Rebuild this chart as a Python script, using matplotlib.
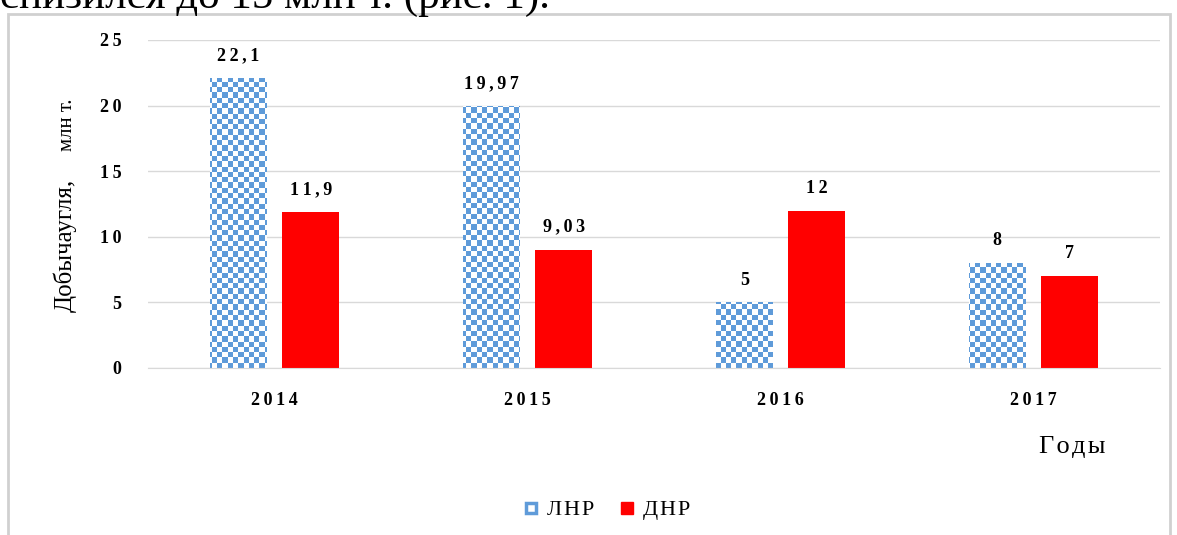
import numpy as np
import matplotlib
matplotlib.use("Agg")
import matplotlib.pyplot as plt
from matplotlib.patches import Rectangle
from matplotlib.colors import ListedColormap
from matplotlib.lines import Line2D

years = ["2014", "2015", "2016", "2017"]
lnr = [22.1, 19.97, 5, 8]
dnr = [11.9, 9.03, 12, 7]
lnr_labels = ["22,1", "19,97", "5", "8"]
dnr_labels = ["11,9", "9,03", "12", "7"]
series_names = ["ЛНР", "ДНР"]
yticks = [0, 5, 10, 15, 20, 25]


def sp(s, gap="\u2009"):
    # widen letter spacing to mimic the horizontally stretched original
    return gap.join(s)


W, H = 1177, 535
plt.rcParams['font.family'] = ['Liberation Serif', 'DejaVu Serif']
fig = plt.figure(figsize=(W / 100, H / 100), dpi=100)

BLUE = "#5f9bd9"
RED = "#ff0000"
GRID = "#d9d9d9"

# frame
fig.patches.append(Rectangle((8 / W, -0.01), (1170 - 8) / W, 1 - 14 / H + 0.01,
                             transform=fig.transFigure, fill=False,
                             edgecolor="#d0d0d0", linewidth=2))
# cut-off preceding text
fig.text(0.0, 1 - 8 / H, "снизился до 15 млн т. (рис. 1).", fontsize=31,
         va="baseline", ha="left", color="black")

left, right = 148 / W, 1160 / W
bottom, top = 1 - 368 / H, 1 - 40 / H
ax = fig.add_axes([left, bottom, right - left, top - bottom])

x = np.arange(len(years))
bw = 0.225
off = 0.143
bars_l = ax.bar(x - off, lnr, bw, color="white", edgecolor="none", zorder=2)
bars_d = ax.bar(x + off, dnr, bw, color=RED, edgecolor="none", zorder=2)

# checkerboard fill for LNR bars
ax_w_px = (right - left) * W
ax_h_px = (top - bottom) * H
sq = 5.3
nx = int(ax_w_px / sq) + 1
ny = int(ax_h_px / sq) + 1
ii, jj = np.indices((ny, nx))
checker = ((ii + jj) % 2).astype(float)
cmap = ListedColormap(["white", BLUE])
for b in bars_l:
    im = ax.imshow(checker, cmap=cmap, interpolation="nearest", origin="lower",
                   extent=(-0.5, -0.5 + nx * sq / ax_w_px * 4, 0, ny * sq / ax_h_px * 25),
                   aspect="auto", zorder=2.5)
    im.set_clip_path(b)
ax.set_xlim(-0.5, 3.5)
ax.set_ylim(0, 25)

for xi, v, lab in zip(x - off, lnr, lnr_labels):
    ax.annotate(sp(lab), (xi, v), xytext=(0, 10), textcoords="offset points",
                ha="center", va="bottom", fontsize=13, fontweight="bold")
for xi, v, lab in zip(x + off, dnr, dnr_labels):
    ax.annotate(sp(lab), (xi, v), xytext=(0, 10), textcoords="offset points",
                ha="center", va="bottom", fontsize=13, fontweight="bold")

ax.set_yticks(yticks)
ax.set_yticklabels([sp(str(t)) for t in yticks], fontsize=13, fontweight="bold")
ax.set_xticks(x)
ax.set_xticklabels([sp(y) for y in years], fontsize=13, fontweight="bold")
ax.tick_params(axis="both", length=0)
ax.tick_params(axis="y", pad=19)
ax.tick_params(axis="x", pad=17)
ax.grid(axis="y", color=GRID, linewidth=1, zorder=0)
ax.set_axisbelow(True)
for s in ["top", "right", "left"]:
    ax.spines[s].set_visible(False)
ax.spines["bottom"].set_color(GRID)

fig.text(65 / W, 1 - 245 / H, "Добычаугля,", rotation=90, fontsize=18,
         ha="center", va="center")
fig.text(67 / W, 1 - 125 / H, "млн т.", rotation=90, fontsize=15,
         ha="center", va="center")
fig.text(1072 / W, 1 - 447 / H, sp("Годы", "\u200a"), fontsize=19,
         ha="center", va="center")

# legend
h1 = Line2D([], [], marker="s", linestyle="none", markersize=7,
            markerfacecolor="white", markeredgecolor=BLUE, markeredgewidth=2.5)
h2 = Line2D([], [], marker="s", linestyle="none", markersize=9,
            markerfacecolor=RED, markeredgecolor=RED)
fig.legend([h1, h2], [sp(n, "\u200a") for n in series_names], loc="center",
           bbox_to_anchor=(605 / W, 1 - 510 / H),
           ncol=2, frameon=False, fontsize=16, handletextpad=0.2, columnspacing=1.0,
           handlelength=1.0)

fig.savefig("out.png", dpi=100)
